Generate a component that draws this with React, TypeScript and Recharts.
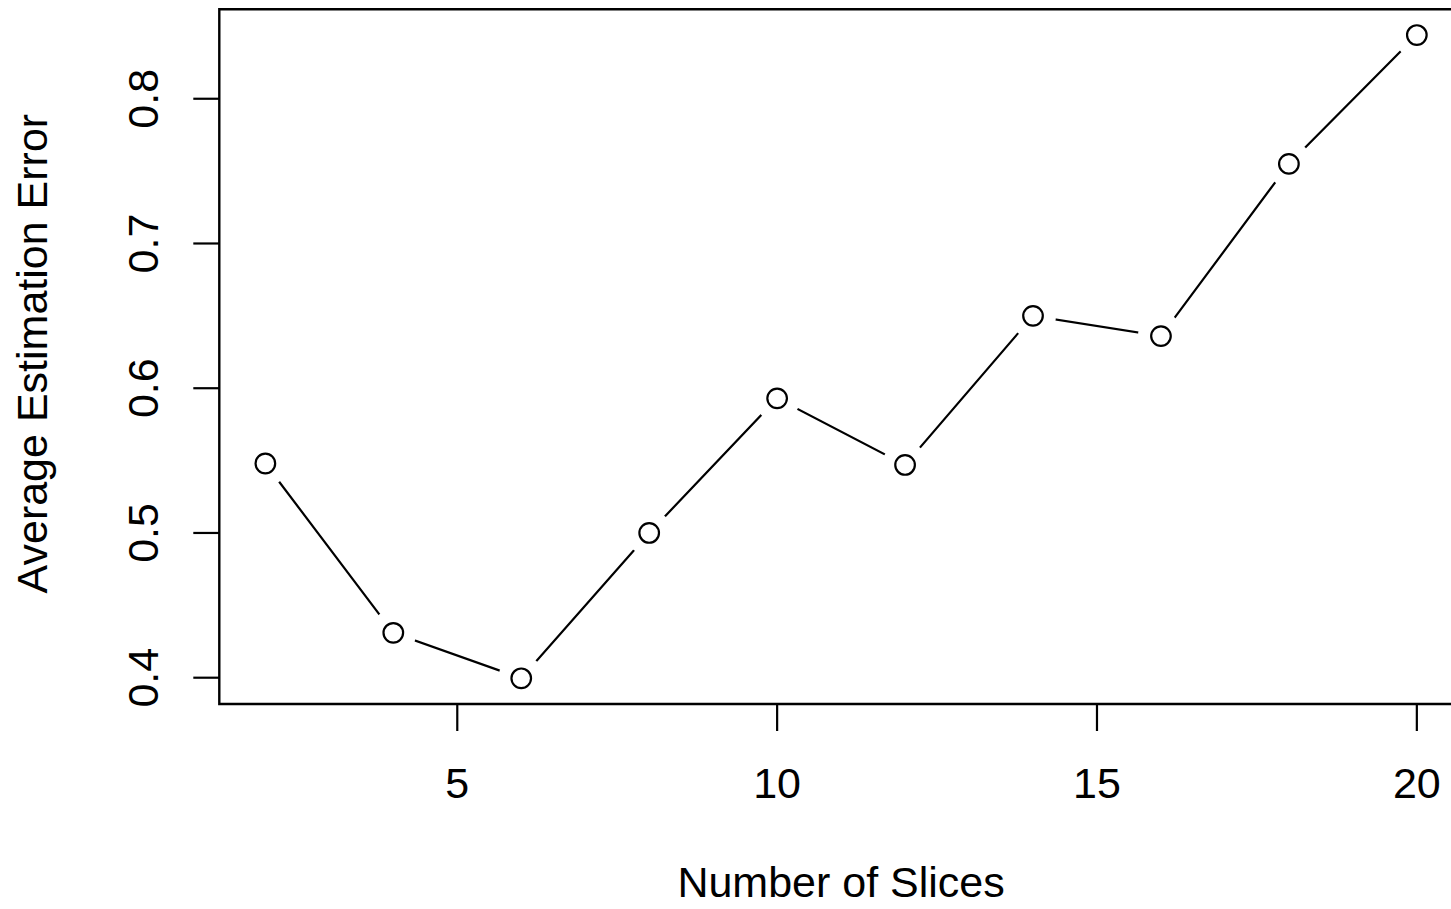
import { LineChart, Line, XAxis, YAxis, ReferenceArea } from "recharts";

const slices = [2, 4, 6, 8, 10, 12, 14, 16, 18, 20];
const avgError = [0.548, 0.431, 0.3996, 0.5, 0.593, 0.547, 0.65, 0.636, 0.755, 0.844];
const xTicks = [5, 10, 15, 20];
const yTicks = [0.4, 0.5, 0.6, 0.7, 0.8];

// R-style 4% padding around the data range
const xDomain: [number, number] = [1.28, 20.72];
const yDomain: [number, number] = [0.38183, 0.8618];

const data = slices.map((s, i) => ({ slices: s, error: avgError[i] }));

const FONT = "'Liberation Sans', Arial, Helvetica, sans-serif";
const FS = 43;

const XTick = (props: any) => {
  const { x, y, payload } = props;
  return (
    <text x={x} y={y + 67} textAnchor="middle" fontFamily={FONT} fontSize={FS} fill="#000">
      {payload.value}
    </text>
  );
};

const YTick = (props: any) => {
  const { x, y, payload } = props;
  return (
    <text
      transform={`translate(${x - 35},${y}) rotate(-90)`}
      textAnchor="middle"
      fontFamily={FONT}
      fontSize={FS}
      fill="#000"
    >
      {Number(payload.value).toFixed(1)}
    </text>
  );
};

// open circle with a white halo so the line stops short of it (type = "b")
const OpenDot = (props: any) => {
  const { cx, cy, index } = props;
  return (
    <g key={`dot-${index}`}>
      <circle cx={cx} cy={cy} r={23} fill="#fff" stroke="none" />
      <circle cx={cx} cy={cy} r={9.8} fill="#fff" stroke="#000" strokeWidth={2.2} />
    </g>
  );
};

export default function App() {
  return (
    <div
      style={{
        position: "absolute",
        left: 0,
        top: 0,
        width: 1451,
        height: 909,
        overflow: "hidden",
        background: "#fff",
      }}
    >
      <LineChart
        width={1470}
        height={909}
        data={data}
        margin={{ top: 9.3, right: 7.1, bottom: 0, left: 0 }}
      >
        <XAxis
          dataKey="slices"
          type="number"
          domain={xDomain}
          ticks={xTicks}
          height={205}
          axisLine={false}
          tickLine={{ stroke: "#000", strokeWidth: 2.2 }}
          tickSize={27}
          tickMargin={0}
          tick={<XTick />}
          interval={0}
          allowDataOverflow
          label={{
            content: (p: any) => {
              const vb = p.viewBox;
              return (
                <text
                  x={vb.x + vb.width / 2}
                  y={vb.y + 193}
                  textAnchor="middle"
                  fontFamily={FONT}
                  fontSize={FS}
                  fill="#000"
                >
                  Number of Slices
                </text>
              );
            },
          }}
        />
        <YAxis
          type="number"
          domain={yDomain}
          ticks={yTicks}
          width={219.3}
          axisLine={false}
          tickLine={{ stroke: "#000", strokeWidth: 2.2 }}
          tickSize={26}
          tickMargin={0}
          tick={<YTick />}
          interval={0}
          allowDataOverflow
          label={{
            content: (p: any) => {
              const vb = p.viewBox;
              const cy = vb.y + vb.height / 2 - 3;
              return (
                <text
                  transform={`translate(${vb.x + 47},${cy}) rotate(-90)`}
                  textAnchor="middle"
                  fontFamily={FONT}
                  fontSize={FS}
                  fill="#000"
                >
                  Average Estimation Error
                </text>
              );
            },
          }}
        />
        <ReferenceArea
          x1={xDomain[0]}
          x2={xDomain[1]}
          y1={yDomain[0]}
          y2={yDomain[1]}
          fill="none"
          fillOpacity={0}
          stroke="#000"
          strokeWidth={2.4}
          ifOverflow="visible"
        />
        <Line
          dataKey="error"
          type="linear"
          stroke="#000"
          strokeWidth={2.2}
          dot={<OpenDot />}
          activeDot={false}
          isAnimationActive={false}
        />
      </LineChart>
    </div>
  );
}
